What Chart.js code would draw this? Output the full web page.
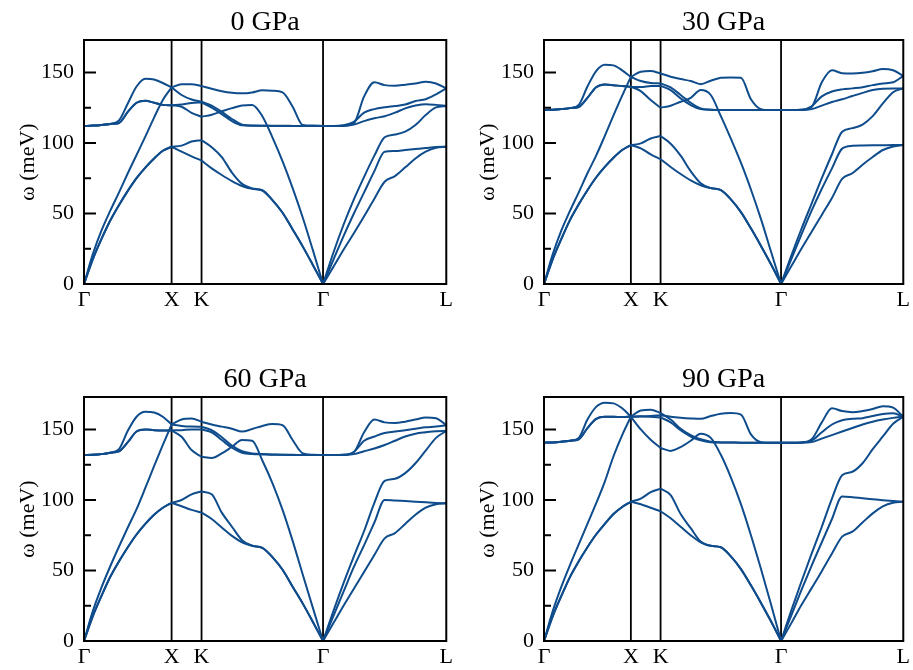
<!DOCTYPE html>
<html lang="pt-br">

<head>
    <meta charset="UTF-8">
    <title>Dispersão de fônons</title>
    <script src="https://cdn.jsdelivr.net/npm/chart.js"></script>
    <style>
        html,
        body {
            margin: 0;
            padding: 0;
            background: #ffffff;
            overflow: hidden;
        }

        .painel {
            position: absolute;
        }
    </style>
</head>

<body>
    <div class="painel" style="left:0px;top:0px;width:456px;height:313px"><canvas id="painel0"></canvas></div>
    <div class="painel" style="left:460px;top:0px;width:453px;height:313px"><canvas id="painel30"></canvas></div>
    <div class="painel" style="left:0px;top:357px;width:456px;height:313px"><canvas id="painel60"></canvas></div>
    <div class="painel" style="left:460px;top:357px;width:453px;height:313px"><canvas id="painel90"></canvas></div>
</body>

</html>
<script>
    // caminho no espaço k: Γ-X, X-K, K-Γ, Γ-L
    const kpath = [
        0, 0.1, 0.2, 0.3, 0.4, 0.5, 0.6, 0.7, 0.8, 0.9, 1.0,
        1.114, 1.228, 1.342,
        1.458, 1.573, 1.689, 1.804, 1.920, 2.036, 2.151, 2.267, 2.382, 2.498, 2.613, 2.729,
        2.846, 2.963, 3.081, 3.198, 3.315, 3.432, 3.550, 3.667, 3.784, 3.901, 4.019, 4.136
    ];
    const pontosSimetria = [0, 1.0, 1.342, 2.729, 4.136];
    const rotulosSimetria = ['Γ', 'X', 'K', 'Γ', 'L'];
    const ticksY = [0, 50, 100, 150];
    const ticksYMenores = [25, 75, 125];
    const pressoes = ['0 GPa', '30 GPa', '60 GPa', '90 GPa'];

    // frequências (meV), uma linha por trecho: Γ-X | X-K | K-Γ | Γ-L
    const bandas0 = [
        [0, 17.5, 32, 45, 56, 66, 75, 82.5, 89, 94.5, 97.3,
            98.1, 101, 102,
            97, 90, 79, 71, 67.8, 66.5, 59.5, 50.5, 38.7, 26.5, 13.5, 0,
            17, 34, 50, 65, 80, 93.8, 94.3, 95, 95.7, 96.4, 97.1, 97.3],
        [0, 17.5, 32, 45, 56, 66, 75, 82.5, 89, 94.5, 97.3,
            93.8, 90.5, 87.5,
            82, 77.3, 73, 69.5, 67.5, 66.3, 59.5, 50.5, 38.7, 26.5, 13.5, 0,
            12, 24.3, 36, 48, 60.5, 72.5, 76.5, 82.7, 89, 93.8, 96.6, 97.3],
        [0, 21, 38, 52, 65, 78.5, 91.5, 104.5, 118, 130.5, 139.4,
            141.7, 141.7, 140.3,
            138.4, 136.7, 135.6, 135.2, 135.8, 137.3, 137, 135.8, 125.7, 112.7, 112.3, 112,
            112, 112.3, 114, 133, 143, 141, 140.6, 141.3, 142.2, 143.4, 142.2, 138.7],
        [112, 112.3, 112.8, 113.5, 116, 128, 140, 145.5, 145, 142.5, 139.4,
            134, 130.8, 129.2,
            126.5, 122, 117, 113, 112.3, 112.2, 112.2, 112.2, 112.1, 112, 112, 112,
            112, 112.5, 115, 121.5, 124, 125.3, 126.2, 127.2, 129.7, 131, 134.5, 138.7],
        [112, 112.3, 112.8, 113.5, 114.2, 122, 128.5, 130, 128.5, 127, 126.7,
            127.3, 128.3, 128.8,
            125, 120.5, 115.5, 112.5, 112.2, 112.2, 112.1, 112.1, 112, 112, 112, 112,
            112, 112, 113, 115.5, 117.5, 119, 121.5, 124.5, 126.5, 127.5, 127, 126.2],
        [112, 112.3, 112.8, 113.5, 114.2, 122, 128.5, 130, 128.5, 127, 126.7,
            125.7, 121.4, 118.6,
            120, 122.4, 124.7, 126.6, 127, 119, 104, 87, 68, 47, 24, 0,
            22, 42, 60, 76, 91, 104, 106, 108, 112.7, 119.8, 125.2, 126.2]
    ];

    const bandas30 = [
        [0, 17.5, 32, 45.5, 56.5, 66.5, 75.5, 83, 89.5, 95, 98.5,
            99.7, 103.2, 104.9,
            99.5, 91, 80, 71.5, 68, 66.5, 60, 51, 39.5, 27, 14, 0,
            17.5, 35, 52, 67.5, 82, 96, 98, 98.2, 98.3, 98.4, 98.5, 98.5],
        [0, 17.5, 32, 45.5, 56.5, 66.5, 75.5, 83, 89.5, 95, 98.5,
            96.2, 91.9, 88.5,
            83, 78, 73.5, 70, 68, 66.5, 60, 51, 39.5, 27, 14, 0,
            12.5, 25, 37, 49, 61, 74.5, 78.5, 84.5, 90, 95, 97.5, 98.5],
        [0, 21, 38, 52, 65, 78.5, 91, 105, 119.5, 133.5, 146.8,
            150.5, 151, 149.3,
            147, 145.3, 143.9, 141.7, 144.1, 146.2, 146.5, 146.2, 131, 124, 123.3, 123.3,
            123.3, 123.5, 125.5, 143, 151.5, 149.5, 149.3, 149.7, 150.8, 152.4, 151.5, 147.6],
        [123.3, 123.5, 124, 124.7, 127, 140, 151, 155.5, 155, 151.5, 146.8,
            143.9, 142.5, 142.2,
            139.4, 134, 128.5, 124.5, 123.6, 123.4, 123.3, 123.3, 123.3, 123.3, 123.3, 123.3,
            123.3, 123.5, 126, 133, 136.5, 138, 138.7, 139.5, 141, 142.2, 143, 147.6],
        [123.3, 123.5, 124, 124.7, 125.5, 132, 139.5, 141.5, 141, 140.3, 139.8,
            139.6, 140.3, 140.5,
            137.5, 131.6, 126.9, 124, 123.5, 123.3, 123.3, 123.3, 123.3, 123.3, 123.3, 123.3,
            123.3, 123.3, 124, 126.5, 129, 131, 133.3, 135.5, 137.5, 138.5, 138.7, 138.7],
        [123.3, 123.5, 124, 124.7, 125.5, 132, 139.5, 141.5, 141, 140.3, 139.8,
            136.8, 130.4, 125,
            126.4, 129.2, 132, 137.5, 134, 119, 103, 86, 67, 46, 23, 0,
            20, 39, 57, 75, 92, 108, 110.5, 113, 119, 128, 136, 138.7]
    ];

    const bandas60 = [
        [0, 17.5, 32, 45.5, 56.5, 66.5, 75.5, 83, 89.5, 94.5, 98,
            100, 104, 106,
            104, 91, 81, 71.5, 67.5, 66, 59.5, 50.5, 38.5, 26.5, 13.5, 0,
            17.5, 35, 52.5, 68, 84, 100, 99.6, 99.2, 98.8, 98.3, 97.9, 97.6],
        [0, 17.5, 32, 45.5, 56.5, 66.5, 75.5, 83, 89.5, 94.5, 98,
            95.5, 93, 91,
            86.5, 80.5, 74.5, 70, 67.5, 66, 59.5, 50.5, 38.5, 26.5, 13.5, 0,
            12.5, 25, 37, 49, 61, 72.8, 76.5, 83, 89.5, 94.5, 97, 97.6],
        [0, 21, 38, 53, 67, 80.5, 93.5, 108.5, 124, 139, 153.5,
            157.1, 157.8, 155.4,
            153.5, 152, 150.5, 148.5, 150.3, 152.5, 153.8, 153, 142.5, 133, 132, 131.8,
            131.8, 132, 134, 148, 157, 155, 154.5, 155.5, 157, 158.5, 158, 153],
        [131.8, 132, 132.5, 133.5, 136, 149, 159, 162.5, 162, 159, 153.5,
            152.5, 152, 151.9,
            149.5, 144.5, 138.5, 134.5, 133, 132.5, 132.3, 132, 132, 131.8, 131.8, 131.8,
            131.8, 132, 134, 142, 145, 147.5, 148.5, 149.5, 150.5, 151.5, 152, 153],
        [131.8, 132, 132.5, 133.5, 134.5, 141, 148.5, 150, 149.5, 149.3, 149.3,
            149.5, 150, 150,
            148, 142.5, 137, 133.5, 132.5, 132.3, 132, 132, 131.9, 131.8, 131.8, 131.8,
            131.8, 131.8, 132.5, 134.5, 136.5, 139, 142, 145, 147, 148, 148.8, 149],
        [131.8, 132, 132.5, 133.5, 134.5, 141, 148.5, 150, 149.5, 149.3, 149.3,
            144.8, 135.4, 130.6,
            129.7, 133, 137.7, 142.5, 142, 128, 112, 93, 71, 47, 23.5, 0,
            21, 41, 60, 78, 98, 113.5, 115, 119, 126, 135, 144, 149]
    ];

    const bandas90 = [
        [0, 17.5, 32, 45.5, 56.5, 66.5, 75.5, 83, 90, 95, 98.7,
            101, 105.5, 108,
            103.5, 90, 80, 70.5, 67.5, 66.5, 60, 51, 39.5, 27, 14, 0,
            18, 36, 53.5, 70, 86.5, 102.5, 102, 101.2, 100.5, 99.8, 99.2, 98.7],
        [0, 17.5, 32, 45.5, 56.5, 66.5, 75.5, 83, 90, 95, 98.7,
            97, 94.5, 92,
            87, 81, 75, 70, 67.5, 66.5, 60, 51, 39.5, 27, 14, 0,
            12.5, 25.5, 37.5, 49.5, 62, 74, 77.5, 84, 90.5, 95.5, 98, 98.7],
        [0, 21, 38.5, 54, 68.5, 83, 97.5, 113, 131, 146, 159,
            163.5, 164, 161.6,
            157, 150.5, 146, 143, 141.3, 140.8, 140.7, 140.6, 140.6, 140.6, 140.6, 140.6,
            140.6, 140.8, 142, 148, 153.5, 156.5, 157.5, 158, 159.5, 161, 161.5, 159],
        [140.6, 140.8, 141.3, 142, 144, 157, 166, 169, 168.5, 165, 159,
            150, 142.7, 136.9,
            134.8, 137.5, 142, 147, 144, 132, 116, 97, 75, 51, 26, 0,
            21.5, 42, 62, 81, 101, 117.5, 120, 126, 136, 145, 154, 159],
        [140.6, 140.8, 141.3, 142, 143, 151, 157.5, 159, 159, 158.8, 159,
            159.2, 159.5, 160,
            159, 158.3, 157.8, 157.5, 159.5, 161.2, 161.6, 160.5, 146.5, 141, 140.6, 140.6,
            140.6, 140.8, 143, 155, 165, 163, 162.2, 163, 164.5, 166.5, 165.5, 159],
        [140.6, 140.8, 141.3, 142, 143, 151, 157.5, 159, 159, 158.8, 159,
            159.3, 159, 158.5,
            155, 149.5, 145, 142.3, 141, 140.8, 140.7, 140.6, 140.6, 140.6, 140.6, 140.6,
            140.6, 140.6, 141, 143.5, 146, 148.5, 151, 153.5, 155.5, 157, 158.2, 159]
    ];

    const corBanda = '#0f4c8c';
    const fonteSerif = "'Liberation Serif', 'Times New Roman', serif";

    // quebra a linha nos pontos de simetria internos (X, K, Γ)
    const indicesQuebra = kpath
        .map((k, i) => (pontosSimetria.slice(1, -1).includes(k) ? i : -1))
        .filter(i => i >= 0);

    function pontosDaBanda(valores) {
        if (valores.length !== kpath.length) {
            console.warn('banda com tamanho errado', valores.length);
        }
        var pontos = [];
        for (var i = 0; i < kpath.length; i++) {
            pontos.push({ x: kpath[i], y: valores[i] });
            if (indicesQuebra.includes(i)) {
                pontos.push({ x: kpath[i], y: null });
                pontos.push({ x: kpath[i], y: valores[i] });
            }
        }
        return pontos;
    }

    // linhas verticais, moldura e ticks para dentro
    const molduraBandas = {
        id: 'molduraBandas',
        beforeDatasetsDraw(chart) {
            const { ctx, chartArea: a, scales: { x } } = chart;
            ctx.save();
            ctx.strokeStyle = '#000000';
            ctx.lineWidth = 1.8;
            pontosSimetria.slice(1, -1).forEach(k => {
                const px = x.getPixelForValue(k);
                ctx.beginPath();
                ctx.moveTo(px, a.top);
                ctx.lineTo(px, a.bottom);
                ctx.stroke();
            });
            ctx.restore();
        },
        afterDatasetsDraw(chart) {
            const { ctx, chartArea: a, scales: { y } } = chart;
            ctx.save();
            ctx.strokeStyle = '#000000';
            ctx.lineWidth = 2;
            ctx.strokeRect(a.left, a.top, a.right - a.left, a.bottom - a.top);
            ctx.beginPath();
            ticksY.forEach(v => {
                const py = y.getPixelForValue(v);
                ctx.moveTo(a.left, py);
                ctx.lineTo(a.left + 12, py);
            });
            ticksYMenores.forEach(v => {
                const py = y.getPixelForValue(v);
                ctx.moveTo(a.left, py);
                ctx.lineTo(a.left + 7, py);
            });
            ctx.stroke();
            ctx.restore();
        }
    };

    function plotarPainel(idCanvas, titulo, bandas, margemDireita) {
        var dados = {
            datasets: bandas.map(b => ({
                data: pontosDaBanda(b),
                borderColor: corBanda,
                borderWidth: 2,
                pointRadius: 0,
                fill: false,
                cubicInterpolationMode: 'monotone'
            }))
        };

        new Chart(document.getElementById(idCanvas), {
            type: 'line',
            data: dados,
            options: {
                animation: false,
                responsive: true,
                maintainAspectRatio: false,
                layout: { padding: { top: 1.4, right: margemDireita, left: 0, bottom: 0 } },
                plugins: {
                    legend: { display: false },
                    tooltip: { enabled: false },
                    title: {
                        display: true,
                        text: titulo,
                        fullSize: false,
                        color: '#000000',
                        font: { family: fonteSerif, size: 28, weight: 'normal' },
                        padding: { top: 4, bottom: 1 }
                    }
                },
                scales: {
                    x: {
                        type: 'linear',
                        min: 0,
                        max: pontosSimetria[pontosSimetria.length - 1],
                        grid: { display: false, drawTicks: false },
                        border: { display: false },
                        afterBuildTicks: eixo => { eixo.ticks = pontosSimetria.map(v => ({ value: v })); },
                        afterFit: eixo => { eixo.height = 29; },
                        ticks: {
                            autoSkip: false,
                            maxRotation: 0,
                            padding: 3,
                            color: '#000000',
                            font: { family: fonteSerif, size: 22 },
                            callback: (valor, i) => rotulosSimetria[i]
                        }
                    },
                    y: {
                        min: 0,
                        max: 173,
                        grid: { display: false, drawTicks: false },
                        border: { display: false },
                        afterBuildTicks: eixo => { eixo.ticks = ticksY.map(v => ({ value: v })); },
                        afterFit: eixo => { eixo.width = 84; },
                        ticks: {
                            padding: 10,
                            color: '#000000',
                            font: { family: fonteSerif, size: 22 }
                        },
                        title: {
                            display: true,
                            text: 'ω (meV)',
                            color: '#000000',
                            font: { family: fonteSerif, size: 22 },
                            padding: { top: 15, bottom: 0 }
                        }
                    }
                }
            },
            plugins: [molduraBandas]
        });
    }

    window.onload = () => {
        plotarPainel('painel0', pressoes[0], bandas0, 9);
        plotarPainel('painel30', pressoes[1], bandas30, 7);
        plotarPainel('painel60', pressoes[2], bandas60, 9);
        plotarPainel('painel90', pressoes[3], bandas90, 7);
    };
</script>
